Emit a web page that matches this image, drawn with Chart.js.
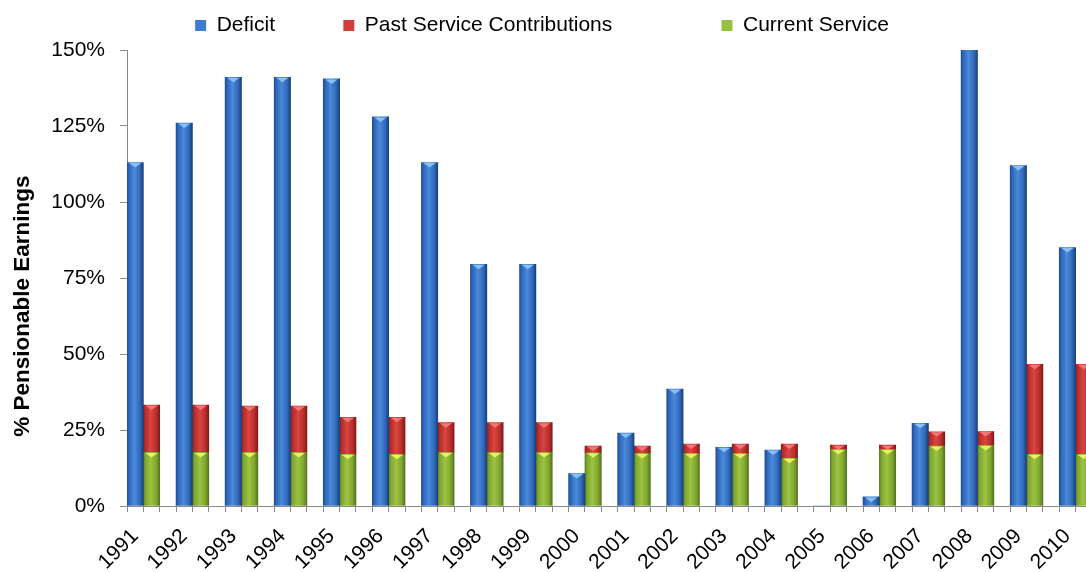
<!DOCTYPE html>
<html>
<head>
<meta charset="utf-8">
<script src="https://cdn.jsdelivr.net/npm/chart.js@4/dist/chart.umd.min.js"></script>
<style>
  html, body { margin: 0; padding: 0; background: #fff; overflow: hidden; width: 1086px; height: 572px; }
  #c { position: absolute; left: -43px; top: 0; }
</style>
</head>
<body>
<canvas id="c" width="1173" height="572"></canvas>
<script>
// ---- data (values in % of pensionable earnings) ----
const years = ['1991','1992','1993','1994','1995','1996','1997','1998','1999','2000',
               '2001','2002','2003','2004','2005','2006','2007','2008','2009','2010'];
const deficit = [113, 126, 141, 141, 140.5, 128, 113, 79.5, 79.5, 10.7,
                 24, 38.5, 19.3, 18.4, 0, 3, 27.2, 158, 112, 85];
const pastService = [15.6, 15.6, 15.3, 15.3, 12.2, 12.2, 9.8, 9.8, 9.8, 2.2,
                     2.4, 3.1, 3.1, 4.7, 1.4, 1.4, 4.7, 4.6, 29.6, 29.6];
const currentService = [17.6, 17.6, 17.6, 17.6, 17, 17, 17.6, 17.6, 17.6, 17.5,
                        17.3, 17.3, 17.3, 15.7, 18.6, 18.6, 19.7, 19.9, 17, 17];
const yTicks = [0, 25, 50, 75, 100, 125, 150];

// Each year occupies three slots: deficit bar, stacked service bar, blank gap
const slotLabels = years.flatMap(y => [y, '', '']);
const slot = (arr, pos) => arr.flatMap(v => [0,1,2].map(k => k === pos ? v : null));

function grad(stops, base) {
  return function(ctx) {
    if (ctx.type !== 'data') return base;
    const chart = ctx.chart, xs = chart.scales.x;
    if (!xs || !chart.chartArea) return base;
    const cx = xs.getPixelForValue(ctx.dataIndex);
    const w = xs.width / slotLabels.length;
    const g = chart.ctx.createLinearGradient(cx - w/2, 0, cx + w/2, 0);
    stops.forEach(([p, c]) => g.addColorStop(p, c));
    return g;
  };
}
const blue = grad([[0,'#1f4d93'],[0.12,'#2d66b8'],[0.45,'#4b89da'],[0.8,'#2f68b9'],[1,'#173f7c']], '#3a72c4');
const red = grad([[0,'#8e1f1f'],[0.12,'#b52b2b'],[0.45,'#d9463f'],[0.8,'#b82d2b'],[1,'#7e1a1a']], '#c8332f');
const green = grad([[0,'#5b7f1e'],[0.12,'#7ea42f'],[0.45,'#9cc443'],[0.8,'#7fa52f'],[1,'#52741a']], '#8db83a');
const legendFill = ['#3f7bd0', '#95c23e', '#d0403a'];
const capColor = ['rgba(140,195,250,0.95)', 'rgba(235,245,90,0.95)', 'rgba(245,120,120,0.95)'];

const nb = n => '\u00a0'.repeat(n);
const legendPad = {0: 10, 2: 17};
const legendOrder = [0, 2, 1];

// small gap under the legend, as in the original
const legendGap = {
  id: 'legendGap',
  beforeLayout(chart) {
    const lg = chart.legend;
    if (lg && !lg._gapPatched) {
      const fit = lg.fit.bind(lg);
      lg.fit = function() { fit(); this.height += 4; };
      lg._gapPatched = true;
    }
  }
};

// light chevron highlight at the top of each bar segment
const barCaps = {
  id: 'barCaps',
  afterDatasetsDraw(chart) {
    const c = chart.ctx, area = chart.chartArea;
    c.save();
    chart.data.datasets.forEach((ds, di) => {
      const meta = chart.getDatasetMeta(di);
      meta.data.forEach((el, i) => {
        const v = ds.data[i];
        if (v == null || v <= 0) return;
        const p = el.getProps(['x', 'y', 'base', 'width'], true);
        if (p.y <= area.top + 1) return;
        const h = Math.min(5, Math.abs(p.base - p.y));
        if (h < 2) return;
        const half = p.width / 2 - 2;
        c.fillStyle = capColor[di];
        c.beginPath();
        c.moveTo(p.x - half, p.y + 0.5);
        c.lineTo(p.x + half, p.y + 0.5);
        c.lineTo(p.x, p.y + h);
        c.closePath();
        c.fill();
      });
    });
    c.restore();
  }
};

new Chart(document.getElementById('c'), {
  type: 'bar',
  data: {
    labels: slotLabels,
    datasets: [
      { label: 'Deficit', data: slot(deficit, 0), backgroundColor: blue },
      { label: 'Current Service', data: slot(currentService, 1), backgroundColor: green },
      { label: 'Past Service Contributions', data: slot(pastService, 1), backgroundColor: red }
    ]
  },
  plugins: [legendGap, barCaps],
  options: {
    responsive: false,
    maintainAspectRatio: false,
    animation: false,
    devicePixelRatio: 1,
    layout: { padding: { top: 5, left: 0, right: 3, bottom: 0 } },
    datasets: { bar: { barPercentage: 1, categoryPercentage: 1, borderWidth: 0 } },
    plugins: {
      tooltip: { enabled: false },
      legend: {
        position: 'top',
        labels: {
          font: { family: 'Liberation Sans, Arial, sans-serif', size: 21 },
          color: '#000',
          boxWidth: 11, boxHeight: 11, padding: 10,
          generateLabels(chart) {
            const items = Chart.defaults.plugins.legend.labels.generateLabels(chart);
            items.forEach(it => {
              it.text = it.text + nb(legendPad[it.datasetIndex] || 0);
              it.fillStyle = legendFill[it.datasetIndex];
              it.strokeStyle = legendFill[it.datasetIndex];
              it.lineWidth = 0;
            });
            return items;
          },
          sort: (a, b) => legendOrder.indexOf(a.datasetIndex) - legendOrder.indexOf(b.datasetIndex)
        }
      }
    },
    scales: {
      x: {
        stacked: true,
        offset: true,
        grid: { display: true, drawOnChartArea: false, offset: true, tickLength: 6, color: '#8a8a8a', tickColor: '#8a8a8a' },
        border: { display: true, color: '#8a8a8a' },
        ticks: {
          autoSkip: false, maxRotation: 45, minRotation: 45, padding: 12,
          font: { family: 'Liberation Sans, Arial, sans-serif', size: 21 }, color: '#000'
        },
        afterFit: s => { s.height = 66; }
      },
      y: {
        stacked: true,
        min: 0, max: 150,
        afterBuildTicks: s => { s.ticks = yTicks.map(v => ({ value: v })); },
        grid: { display: true, drawOnChartArea: false, tickLength: 7, color: '#8a8a8a', tickColor: '#8a8a8a' },
        border: { display: true, color: '#8a8a8a' },
        ticks: {
          padding: 15,
          callback: v => v + '%',
          font: { family: 'Liberation Sans, Arial, sans-serif', size: 21 }, color: '#000'
        },
        title: {
          display: true,
          text: '% Pensionable Earnings' + nb(9),
          color: '#000',
          font: { family: 'Liberation Sans, Arial, sans-serif', size: 22.5, weight: 'bold' },
          padding: { top: 52, bottom: 0 }
        },
        afterFit: s => { s.width = 170; }
      }
    }
  }
});
</script>
</body>
</html>
